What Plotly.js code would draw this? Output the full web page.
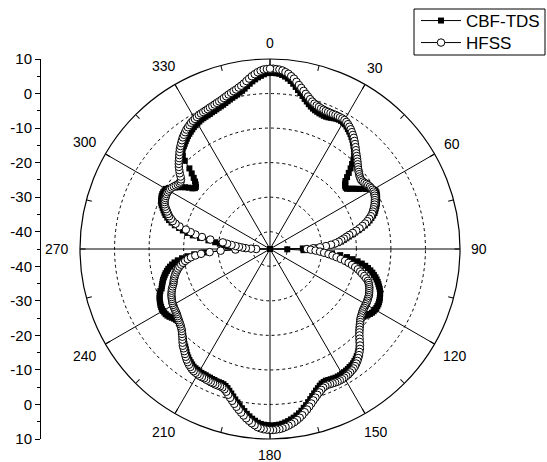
<!DOCTYPE html>
<html>
<head>
<meta charset="utf-8">
<script src="https://cdn.plot.ly/plotly-3.0.1.min.js"></script>
<style>
  html, body { margin: 0; padding: 0; background: #fff; }
  #chart { width: 547px; height: 462px; }
</style>
</head>
<body>
<div id="chart"></div>
<script>
// Radiation pattern (dB) sampled every degree, 0..359, clockwise from the top.
const angles = [];
for (let a = 0; a < 360; a++) angles.push(a);

const hfss = [
  7.2, 7.2, 7.1, 7.0, 6.8, 6.4, 6.0, 5.4, 4.8, 4.0,
  3.2, 2.5, 1.8, 1.1, 0.5, -0.1, -0.6, -1.0, -1.3, -1.5,
  -1.7, -1.8, -1.9, -1.9, -1.9, -1.9, -1.8, -1.8, -1.8, -1.8,
  -1.9, -2.1, -2.4, -2.8, -3.2, -3.7, -4.2, -4.7, -5.3, -5.9,
  -6.5, -7.1, -7.7, -8.2, -8.7, -9.2, -9.7, -10.2, -10.6, -11.0,
  -11.3, -11.6, -11.8, -11.9, -11.8, -11.6, -11.3, -11.1, -10.9, -10.8,
  -10.7, -10.7, -10.8, -11.0, -11.2, -11.5, -11.8, -12.1, -12.5, -12.9,
  -13.3, -13.7, -14.3, -15.0, -15.7, -16.5, -17.4, -18.4, -19.5, -20.6,
  -21.7, -22.6, -23.4, -24.2, -25.0, -26.0, -27.3, -28.8, -30.5, -32.5,
  -34.3, -33.2, -31.8, -30.5, -29.3, -28.0, -26.8, -25.6, -24.3, -23.0,
  -21.9, -20.8, -19.8, -18.9, -18.1, -17.4, -16.6, -15.9, -15.2, -14.8,
  -14.5, -14.2, -14.0, -13.8, -13.6, -13.4, -13.3, -13.2, -13.1, -13.0,
  -13.0, -12.9, -12.9, -12.8, -12.7, -12.5, -12.3, -12.1, -11.8, -11.4,
  -11.0, -10.6, -10.1, -9.6, -9.0, -8.3, -7.6, -6.8, -6.1, -5.5,
  -4.9, -4.4, -3.9, -3.5, -3.1, -2.8, -2.6, -2.4, -2.2, -2.1,
  -2.0, -1.9, -1.9, -1.9, -2.0, -2.1, -2.2, -2.3, -2.2, -2.0,
  -1.6, -1.1, -0.6, 0.0, 0.6, 1.3, 2.0, 2.7, 3.3, 4.0,
  4.6, 5.1, 5.6, 6.0, 6.4, 6.7, 7.0, 7.2, 7.3, 7.4,
  7.4, 7.3, 7.2, 7.0, 6.7, 6.2, 5.7, 5.1, 4.5, 3.8,
  3.1, 2.4, 1.7, 1.0, 0.3, -0.4, -1.1, -1.8, -2.3, -2.6,
  -2.7, -2.7, -2.7, -2.8, -2.8, -2.9, -2.9, -3.0, -3.0, -3.0,
  -3.1, -3.2, -3.3, -3.5, -3.8, -4.1, -4.5, -4.9, -5.4, -5.9,
  -6.4, -6.9, -7.3, -7.9, -8.5, -9.1, -9.6, -10.1, -10.5, -10.8,
  -11.1, -11.3, -11.5, -11.7, -11.9, -12.1, -12.2, -12.3, -12.4, -12.5,
  -12.6, -12.7, -12.9, -13.1, -13.3, -13.5, -13.8, -14.1, -14.4, -14.8,
  -15.2, -15.5, -15.7, -16.0, -16.3, -16.6, -17.0, -17.4, -17.8, -18.3,
  -18.9, -19.5, -20.2, -21.0, -22.0, -23.3, -25.0, -27.5, -30.7, -35.0,
  -41.0, -39.5, -38.0, -37.0, -36.0, -35.0, -33.8, -32.5, -31.2, -27.5,
  -25.0, -23.0, -21.5, -20.0, -18.0, -16.7, -15.7, -15.0, -14.3, -13.8,
  -13.3, -12.8, -12.3, -11.9, -11.6, -11.4, -11.3, -11.2, -11.1, -11.1,
  -11.2, -11.3, -11.5, -11.8, -12.1, -12.4, -12.6, -12.6, -12.3, -11.7,
  -10.9, -10.2, -9.5, -8.9, -8.3, -7.8, -7.2, -6.6, -6.0, -5.5,
  -5.0, -4.5, -4.0, -3.6, -3.2, -2.8, -2.5, -2.2, -1.9, -1.7,
  -1.5, -1.3, -1.1, -1.0, -0.9, -0.8, -0.7, -0.5, -0.4, -0.2,
  0.0, 0.2, 0.4, 0.7, 1.0, 1.3, 1.6, 1.9, 2.2, 2.6,
  3.0, 3.5, 4.1, 4.7, 5.3, 5.8, 6.3, 6.7, 7.0, 7.1
];

const cbfTds = [
  6.0, 6.0, 5.9, 5.8, 5.5, 5.1, 4.6, 4.0, 3.3, 2.5,
  1.7, 1.0, 0.3, -0.4, -1.0, -1.6, -2.1, -2.5, -2.8, -3.0,
  -3.2, -3.3, -3.4, -3.4, -3.3, -3.1, -2.9, -2.7, -2.6, -2.6,
  -2.7, -2.9, -3.2, -3.6, -4.0, -4.4, -4.9, -5.4, -6.0, -6.6,
  -7.2, -7.8, -8.6, -9.6, -10.8, -12.0, -13.3, -14.5, -15.6, -16.2,
  -16.6, -16.8, -16.7, -16.0, -15.3, -14.6, -13.9, -13.0, -12.2, -11.3,
  -10.5, -10.1, -10.1, -10.3, -10.5, -10.8, -11.1, -11.4, -11.8, -12.2,
  -12.6, -13.0, -13.6, -14.3, -15.0, -15.8, -16.7, -17.7, -18.8, -19.9,
  -21.0, -21.9, -22.7, -23.5, -24.3, -25.3, -26.6, -28.6, -31.5, -35.5,
  -45.0, -40.0, -35.3, -30.2, -27.0, -24.6, -22.6, -20.9, -19.4, -18.1,
  -17.0, -16.1, -15.3, -14.6, -14.0, -13.4, -12.9, -12.4, -12.0, -11.6,
  -11.2, -10.9, -10.6, -10.4, -10.2, -10.0, -9.9, -9.8, -9.8, -9.8,
  -9.9, -10.0, -10.2, -10.5, -10.9, -11.3, -11.6, -11.8, -11.9, -11.7,
  -11.3, -10.9, -10.4, -9.9, -9.3, -8.7, -8.0, -7.3, -6.6, -6.0,
  -5.5, -5.1, -4.7, -4.4, -4.1, -3.9, -3.8, -3.6, -3.5, -3.4,
  -3.3, -3.2, -3.2, -3.2, -3.3, -3.4, -3.5, -3.6, -3.5, -3.3,
  -2.9, -2.4, -1.9, -1.3, -0.7, 0.0, 0.7, 1.4, 2.0, 2.7,
  3.3, 3.8, 4.3, 4.7, 5.1, 5.4, 5.7, 5.9, 6.0, 6.1,
  6.1, 6.0, 5.9, 5.7, 5.4, 4.9, 4.4, 3.8, 3.2, 2.5,
  1.8, 1.1, 0.4, -0.3, -1.0, -1.7, -2.3, -2.9, -3.3, -3.6,
  -3.7, -3.7, -3.7, -3.8, -3.8, -3.9, -3.9, -4.0, -4.0, -4.0,
  -4.1, -4.2, -4.3, -4.4, -4.7, -5.0, -5.3, -5.7, -6.1, -6.6,
  -7.1, -7.6, -8.0, -8.5, -9.0, -9.5, -9.9, -10.3, -10.6, -10.8,
  -11.0, -11.1, -11.1, -11.0, -10.7, -10.3, -9.9, -9.6, -9.4, -9.3,
  -9.2, -9.2, -9.3, -9.4, -9.6, -9.8, -10.0, -10.3, -10.6, -11.0,
  -11.6, -11.9, -12.2, -12.5, -12.8, -13.2, -13.6, -14.0, -14.5, -15.0,
  -15.6, -16.3, -17.1, -18.1, -19.4, -21.0, -23.0, -26.0, -30.7, -35.0,
  -45.0, -38.0, -35.5, -34.0, -32.8, -31.6, -30.4, -29.0, -27.0, -24.5,
  -22.3, -20.6, -19.2, -18.0, -16.6, -15.5, -14.6, -13.9, -13.2, -12.7,
  -12.2, -11.7, -11.2, -10.8, -10.5, -10.3, -10.1, -10.0, -10.0, -10.1,
  -10.2, -10.8, -11.5, -12.3, -13.0, -13.8, -14.6, -15.5, -16.5, -17.0,
  -17.0, -16.5, -15.8, -14.8, -13.5, -12.0, -9.5, -8.0, -7.0, -6.5,
  -6.2, -5.8, -5.4, -5.0, -4.6, -4.3, -4.0, -3.7, -3.4, -3.2,
  -3.0, -2.8, -2.6, -2.5, -2.4, -2.3, -2.2, -2.0, -1.9, -1.7,
  -1.5, -1.3, -1.1, -0.8, -0.5, -0.2, 0.1, 0.4, 0.7, 1.1,
  1.5, 2.0, 2.6, 3.2, 3.8, 4.3, 4.8, 5.2, 5.6, 5.9
];

// Angular tick labels (degrees)
const angleTicks = [0, 30, 60, 90, 120, 150, 180, 210, 240, 270, 300, 330];
const angleTickText = ['0', '30', '60', '90', '120', '150', '180', '210', '240', '270', '300', '330'];
// Minor angular ticks every 15 degrees
const angleMinorTicks = [];
for (let a = 0; a < 360; a += 15) angleMinorTicks.push(a);

// Radial levels (dB): range and dotted reference circles
const rRange = [-45, 10];
const rGrid = [-40, -30, -20, -10, 0];

// Vertical dB scale on the left: distance from the centre, mirrored top/bottom
const scalePos = [55, 45, 35, 25, 15, 5, -5, -15, -25, -35, -45, -55];
const scaleText = ['10', '0', '-10', '-20', '-30', '-40', '-40', '-30', '-20', '-10', '0', '10'];
const scaleMinor = [50, 40, 30, 20, 10, 0, -10, -20, -30, -40, -50];

const closeLoop = arr => arr.concat([arr[0]]);
const thetaClosed = closeLoop(angles);

const FONT = 'Liberation Sans, Arial, Helvetica, sans-serif';
const W = 547, H = 462;
// polar frame in pixels: centre and outer radius
const CX = 270, CY = 249, RAD = 190;
const domX = [(CX - RAD) / W, (CX + RAD) / W];
const domY = [(H - CY - RAD) / H, (H - CY + RAD) / H];

const traces = [
  {
    type: 'scatterpolar', subplot: 'polar', name: 'CBF-TDS', legend: 'legend',
    theta: thetaClosed, r: closeLoop(cbfTds),
    mode: 'lines+markers',
    line: { color: '#000', width: 1 },
    marker: { symbol: 'square', size: 6, color: '#000', line: { width: 0 } },
    hoverinfo: 'skip'
  },
  {
    type: 'scatterpolar', subplot: 'polar', name: 'HFSS', legend: 'legend2',
    theta: thetaClosed, r: closeLoop(hfss),
    mode: 'lines+markers',
    line: { color: '#000', width: 1 },
    marker: { symbol: 'circle', size: 7.5, color: '#fff', line: { color: '#000', width: 1 } },
    hoverinfo: 'skip'
  },
  {
    // carries the minor angular ticks layer
    type: 'scatterpolar', subplot: 'polar2', r: [], theta: [],
    showlegend: false, hoverinfo: 'skip'
  },
  {
    // carries the vertical dB scale
    type: 'scatter', x: [0.5], y: [0], mode: 'markers',
    marker: { opacity: 0 }, showlegend: false, hoverinfo: 'skip'
  }
];

// Angle labels set just outside the outer ring
const LABEL_GAP = 11;
const annotations = angleTicks.map((a, i) => {
  const t = a * Math.PI / 180;
  const txt = angleTickText[i];
  const halfW = 3.9 * txt.length, halfH = 5;
  const R = RAD + LABEL_GAP + halfW * Math.abs(Math.sin(t)) + halfH * Math.abs(Math.cos(t));
  return {
    xref: 'paper', yref: 'paper',
    x: (CX + R * Math.sin(t)) / W, y: 1 - (CY - R * Math.cos(t)) / H,
    xanchor: 'center', yanchor: 'middle', showarrow: false,
    text: txt, font: { family: FONT, size: 14, color: '#000' }
  };
});

const legendCommon = {
  x: 416 / W, xanchor: 'left', yanchor: 'middle',
  bgcolor: 'rgba(0,0,0,0)', borderwidth: 0, itemwidth: 40,
  font: { family: FONT, size: 17, color: '#000' }
};

const layout = {
  width: W, height: H, autosize: false,
  margin: { l: 0, r: 0, t: 0, b: 0, pad: 0 },
  paper_bgcolor: '#fff', plot_bgcolor: 'rgba(0,0,0,0)',
  font: { family: FONT, size: 14, color: '#000' },
  showlegend: true,
  legend: Object.assign({ y: 1 - 21 / H }, legendCommon),
  legend2: Object.assign({ y: 1 - 43 / H }, legendCommon),
  shapes: [{
    type: 'rect', xref: 'paper', yref: 'paper', layer: 'below',
    x0: 414 / W, x1: 545 / W, y0: 1 - 55 / H, y1: 1 - 9 / H,
    line: { color: '#000', width: 1 }, fillcolor: '#fff'
  }],
  annotations: annotations,
  polar: {
    domain: { x: domX, y: domY },
    bgcolor: 'rgba(0,0,0,0)',
    radialaxis: {
      range: rRange, tickmode: 'array', tickvals: rGrid,
      showticklabels: false, ticks: '', showline: false,
      showgrid: true, gridcolor: '#000', griddash: 'dot', gridwidth: 1
    },
    angularaxis: {
      rotation: 90, direction: 'clockwise',
      tickmode: 'array', tickvals: angleTicks,
      ticks: '', showticklabels: false,
      showline: true, linecolor: '#000', linewidth: 1.2,
      showgrid: true, gridcolor: '#000', gridwidth: 1
    }
  },
  polar2: {
    domain: { x: domX, y: domY },
    bgcolor: 'rgba(0,0,0,0)',
    radialaxis: { visible: false, range: rRange },
    angularaxis: {
      rotation: 90, direction: 'clockwise',
      tickmode: 'array', tickvals: angleMinorTicks,
      ticks: 'inside', ticklen: 5, tickwidth: 1, tickcolor: '#000',
      showticklabels: false, showgrid: false, showline: false
    }
  },
  xaxis: { domain: [0, 0.04], range: [0, 1], visible: false, fixedrange: true },
  yaxis: {
    domain: domY, range: [-55, 55], anchor: 'free', position: 40 / W, side: 'left',
    tickmode: 'array', tickvals: scalePos, ticktext: scaleText,
    ticks: 'outside', ticklen: 5, tickwidth: 1, tickcolor: '#000',
    minor: { tickmode: 'array', tickvals: scaleMinor, ticks: 'outside', ticklen: 3, tickwidth: 1, tickcolor: '#000', showgrid: false },
    showline: true, linecolor: '#000', linewidth: 1,
    showgrid: false, zeroline: false, fixedrange: true,
    tickfont: { family: FONT, size: 15, color: '#000' }
  }
};

Plotly.newPlot('chart', traces, layout, { displayModeBar: false, staticPlot: true });
</script>
</body>
</html>
